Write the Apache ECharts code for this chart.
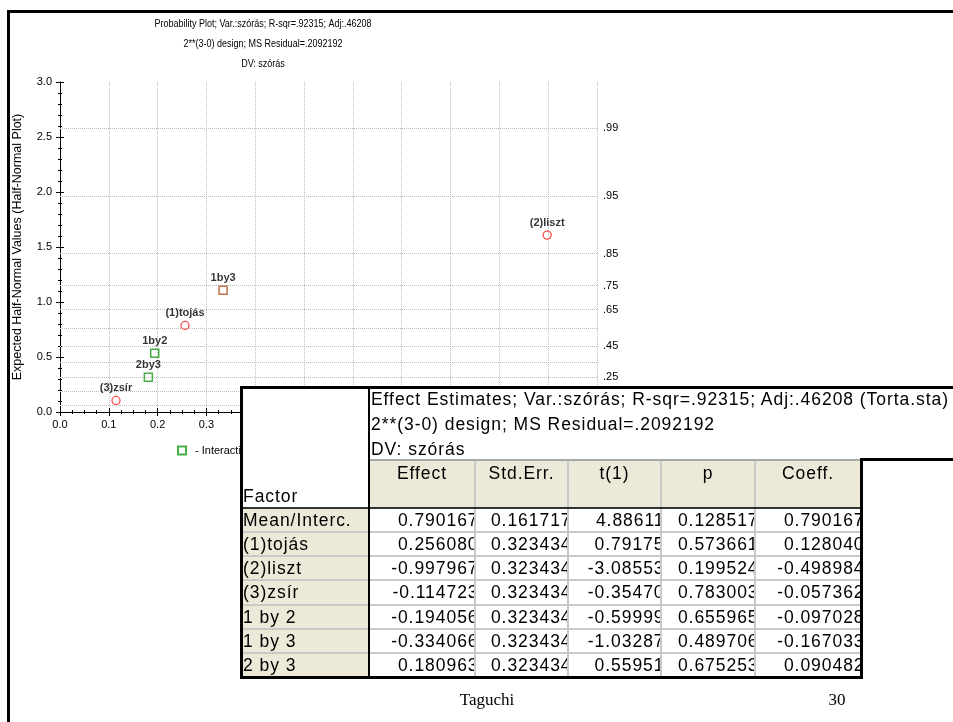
<!DOCTYPE html>
<html>
<head>
<meta charset="utf-8">
<script src="https://cdn.jsdelivr.net/npm/echarts@6/dist/echarts.min.js"></script>
<style>
  html, body { margin: 0; padding: 0; background: #fff; width: 953px; height: 722px; overflow: hidden;
               font-family: "Liberation Sans", Arial, sans-serif; }
  #frame { position: absolute; left: 7px; top: 10px; width: 1000px; height: 800px;
           border-left: 3px solid #000; border-top: 3px solid #000; box-sizing: border-box; }
  #chart { position: absolute; left: 0; top: 0; width: 953px; height: 722px; }
  #tbl { position: absolute; left: 0; top: 0; width: 953px; height: 722px; }
  .blk { position: absolute; }
  .cell { position: absolute; overflow: hidden; white-space: nowrap; font-size: 17.5px; color: #000;
          letter-spacing: 0.95px; }
  .num span { position: absolute; right: -4.5px; }
  .foot { position: absolute; font-family: "Liberation Serif", "Times New Roman", serif; font-size: 17px;
          color: #000; transform: translate(-50%, -50%); }
</style>
</head>
<body>
<div id="frame"></div>
<div id="chart"></div>
<div id="tbl"></div>
<div class="foot" style="left:487px; top:700px;">Taguchi</div>
<div class="foot" style="left:837px; top:700px;">30</div>
<script>
// ---- effect estimates table ----
const factors   = ['Mean/Interc.', '(1)tojás', '(2)liszt', '(3)zsír', '1 by 2', '1 by 3', '2 by 3'];
const effect    = [0.790167, 0.256080, -0.997967, -0.114723, -0.194056, -0.334066, 0.180963];
const stdErr    = [0.161717, 0.323434, 0.323434, 0.323434, 0.323434, 0.323434, 0.323434];
const tValue    = [4.88611, 0.79175, -3.08553, -0.35470, -0.59999, -1.03287, 0.55951];
const pValue    = [0.128517, 0.573661, 0.199524, 0.783003, 0.655965, 0.489706, 0.675253];
const coeff     = [0.790167, 0.128040, -0.498984, -0.057362, -0.097028, -0.167033, 0.090482];
const columnHeads = ['Effect', 'Std.Err.', 't(1)', 'p', 'Coeff.'];
const tableTitle = [
  'Effect Estimates; Var.:szórás; R-sqr=.92315; Adj:.46208 (Torta.sta)',
  '2**(3-0) design; MS Residual=.2092192',
  'DV: szórás'
];

// ---- half-normal probability plot ----
const pointLabels = ['(1)tojás', '(2)liszt', '(3)zsír', '1by2', '1by3', '2by3'];
const isInteraction = [false, false, false, true, true, true];
const expectedHalfNormal = [0.787, 1.608, 0.105, 0.533, 1.106, 0.315];
const plotTitle = [
  'Probability Plot; Var.:szórás; R-sqr=.92315; Adj:.46208',
  '2**(3-0) design; MS Residual=.2092192',
  'DV: szórás'
];
const xTicks = [0, 0.1, 0.2, 0.3, 0.4, 0.5, 0.6, 0.7, 0.8, 0.9, 1.0, 1.1];
const probGrid   = [0.05, 0.15, 0.25, 0.35, 0.45, 0.55, 0.65, 0.75, 0.85, 0.95, 0.99];
const probLabels = ['', '', '.25', '', '.45', '', '.65', '.75', '.85', '.95', '.99'];

// inverse standard normal CDF (Acklam's rational approximation)
function normInv(p) {
  const a = [-3.969683028665376e+01, 2.209460984245205e+02, -2.759285104469687e+02,
             1.383577518672690e+02, -3.066479806614716e+01, 2.506628277459239e+00];
  const b = [-5.447609879822406e+01, 1.615858368580409e+02, -1.556989798598866e+02,
             6.680131188771972e+01, -1.328068155833136e+01];
  const c = [-7.784894002430293e-03, -3.223964580411365e-01, -2.400758277161838e+00,
             -2.549732539343734e+00, 4.374664141464968e+00, 2.938163982698783e+00];
  const d = [7.784695709041462e-03, 3.224671290700398e-01, 2.445134137142996e+00,
             3.754408661907416e+00];
  const pl = 0.02425;
  let q, r;
  if (p < pl) {
    q = Math.sqrt(-2 * Math.log(p));
    return (((((c[0]*q+c[1])*q+c[2])*q+c[3])*q+c[4])*q+c[5]) / ((((d[0]*q+d[1])*q+d[2])*q+d[3])*q+1);
  } else if (p <= 1 - pl) {
    q = p - 0.5; r = q * q;
    return (((((a[0]*r+a[1])*r+a[2])*r+a[3])*r+a[4])*r+a[5])*q / (((((b[0]*r+b[1])*r+b[2])*r+b[3])*r+b[4])*r+1);
  } else {
    q = Math.sqrt(-2 * Math.log(1 - p));
    return -(((((c[0]*q+c[1])*q+c[2])*q+c[3])*q+c[4])*q+c[5]) / ((((d[0]*q+d[1])*q+d[2])*q+d[3])*q+1);
  }
}
// position of a probability on the half-normal scale
const halfNormal = p => normInv((1 + p) / 2);

const mainPts = [], interPts = [];
pointLabels.forEach((name, i) => {
  const item = { name: name, value: [Math.abs(effect[i + 1]), expectedHalfNormal[i]] };
  if (isInteraction[i]) {
    if (name === '1by3') item.itemStyle = { borderColor: '#b0501c' };
    interPts.push(item);
  } else {
    mainPts.push(item);
  }
});

const FONT = '"Liberation Sans", Arial, sans-serif';
const labelStyle = {
  show: true, formatter: '{b}', position: 'top', distance: 2,
  color: '#000', fontWeight: 'bold', fontSize: 11, fontFamily: FONT
};

const chart = echarts.init(document.getElementById('chart'), null, { renderer: 'canvas' });
chart.setOption({
  animation: false,
  textStyle: { fontFamily: FONT },
  grid: { left: 60, top: 82, width: 537, height: 330, show: false, containLabel: false },
  graphic: plotTitle.map((t, i) => ({
    type: 'text', x: 263, y: 24 + i * 20, scaleX: 0.9,
    style: { text: t, fill: '#000', font: '10px ' + FONT, textAlign: 'center', textVerticalAlign: 'middle' }
  })),
  legend: {
    left: 172, top: 440, itemWidth: 8, itemHeight: 8, itemGap: 30,
    data: ['Interactions', 'Main effects'],
    formatter: n => '- ' + n,
    textStyle: { fontSize: 11, color: '#000', fontFamily: FONT, padding: [0, 0, 0, 4] }
  },
  xAxis: [{
    type: 'value', min: 0, max: 1.1, interval: 0.1, position: 'bottom',
    axisLine: { show: true, lineStyle: { color: '#000', width: 1 } },
    axisTick: { show: true, inside: true, length: 4, lineStyle: { color: '#000' } },
    minorTick: { show: true, splitNumber: 4, length: 2, lineStyle: { color: '#000' } },
    axisLabel: { color: '#000', fontSize: 11, margin: 7, formatter: v => v.toFixed(1),
                 customValues: xTicks },
    splitLine: { show: true, lineStyle: { type: 'dotted', color: '#bdbdbd', width: 1 } }
  }, {
    type: 'value', min: 0, max: 1.1, interval: 0.1, position: 'top',
    axisLine: { show: true, lineStyle: { color: '#000', width: 1 } },
    axisTick: { show: true, inside: true, length: 4, lineStyle: { color: '#000' } },
    minorTick: { show: true, splitNumber: 4, length: 2, lineStyle: { color: '#000' } },
    axisLabel: { show: false }, splitLine: { show: false }
  }],
  yAxis: [{
    type: 'value', min: 0, max: 3, interval: 0.5, position: 'left',
    name: 'Expected Half-Normal Values (Half-Normal Plot)',
    nameLocation: 'middle', nameGap: 36, nameRotate: 90,
    nameTextStyle: { fontSize: 12.5, color: '#000', fontFamily: FONT },
    axisLine: { show: true, lineStyle: { color: '#000', width: 1 } },
    axisTick: { show: true, inside: true, length: 4, lineStyle: { color: '#000' } },
    minorTick: { show: true, splitNumber: 5, length: 2, lineStyle: { color: '#000' } },
    axisLabel: { color: '#000', fontSize: 11, margin: 8, formatter: v => v.toFixed(1) },
    splitLine: { show: false }
  }, {
    type: 'value', min: 0, max: 3, interval: 0.5, position: 'right',
    axisLine: { show: true, lineStyle: { color: '#000', width: 1 } },
    axisTick: { show: true, inside: true, length: 4, lineStyle: { color: '#000' } },
    minorTick: { show: true, splitNumber: 5, length: 2, lineStyle: { color: '#000' } },
    axisLabel: { show: false }, splitLine: { show: false }
  }],
  series: [{
    type: 'line', data: [], xAxisIndex: 0, yAxisIndex: 0, silent: true,
    markLine: {
      silent: true, symbol: ['none', 'none'], animation: false,
      lineStyle: { type: 'dotted', color: '#bdbdbd', width: 1 },
      label: { show: true, position: 'end', distance: 6, color: '#000', fontSize: 11, fontFamily: FONT },
      emphasis: { disabled: true },
      data: probGrid.map((p, i) => ({
        yAxis: halfNormal(p),
        label: { show: probLabels[i] !== '', formatter: probLabels[i] }
      }))
    }
  }, {
    name: 'Interactions', type: 'scatter', symbol: 'rect', symbolSize: 8,
    itemStyle: { color: 'rgba(255,255,255,0)', borderColor: '#1a9a1a', borderWidth: 1.5 },
    label: labelStyle, data: interPts, z: 5
  }, {
    name: 'Main effects', type: 'scatter', symbol: 'circle', symbolSize: 8,
    itemStyle: { color: 'rgba(255,255,255,0)', borderColor: '#ff2020', borderWidth: 1.3 },
    label: labelStyle, data: mainPts, z: 5
  }]
});

// ---- table overlay ----
const tbl = document.getElementById('tbl');
function box(l, t, w, h, bg, cls) {
  const d = document.createElement('div');
  d.className = cls || 'blk';
  d.style.left = l + 'px'; d.style.top = t + 'px';
  d.style.width = w + 'px'; d.style.height = h + 'px';
  if (bg) d.style.background = bg;
  tbl.appendChild(d);
  return d;
}
const colX = [241, 369, 475, 568, 661, 755, 861];
const titleTop = 387, headTop = 460, dataTop = 508, rowH = 24.15, tableBottom = 677;
const BEIGE = '#ECE9D8', GRID = '#c9c9c9';

// white backing
box(241, titleTop, 953 - 241, headTop - titleTop, '#fff');
box(241, titleTop, colX[6] - 241, tableBottom - titleTop, '#fff');

// title lines
tableTitle.forEach((t, i) => {
  const c = box(colX[1] + 2, titleTop + i * 25, 953 - colX[1], 25, null, 'cell');
  c.style.lineHeight = '25px';
  c.textContent = t;
});

// header cells
columnHeads.forEach((h, j) => {
  const c = box(colX[j + 1], headTop, colX[j + 2] - colX[j + 1], dataTop - headTop, BEIGE, 'cell');
  c.style.textAlign = 'center';
  c.style.lineHeight = '26px';
  c.textContent = h;
});
const fc = box(243, dataTop - 24, colX[1] - 243, 24, null, 'cell');
fc.style.lineHeight = '24px';
fc.textContent = 'Factor';

// data rows
const cols = [
  effect.map(v => v.toFixed(6)), stdErr.map(v => v.toFixed(6)), tValue.map(v => v.toFixed(5)),
  pValue.map(v => v.toFixed(6)), coeff.map(v => v.toFixed(6))
];
factors.forEach((f, i) => {
  const top = dataTop + i * rowH;
  const lc = box(colX[0], top, colX[1] - colX[0], rowH, BEIGE, 'cell');
  lc.style.lineHeight = rowH + 'px';
  lc.style.paddingLeft = '2px';
  lc.style.boxSizing = 'border-box';
  lc.textContent = f;
  cols.forEach((col, j) => {
    const c = box(colX[j + 1], top, colX[j + 2] - colX[j + 1] - 1, rowH, '#fff', 'cell num');
    c.style.lineHeight = rowH + 'px';
    const s = document.createElement('span');
    s.textContent = col[i];
    c.appendChild(s);
  });
});

// grid lines
for (let i = 1; i < factors.length; i++) box(241, dataTop + i * rowH - 1, colX[6] - 241, 2, GRID);
for (let j = 2; j < 6; j++) box(colX[j] - 1, headTop, 2, tableBottom - headTop, GRID);
box(colX[1], headTop - 1, colX[6] - colX[1], 2, '#a8a8a8');
box(241, dataTop - 1, colX[6] - 241, 2, '#333');
box(colX[1] - 1, titleTop, 2, tableBottom - titleTop, '#000');
// thick outline
box(240, titleTop - 1, 953 - 240, 3, '#000');
box(240, titleTop - 1, 3, tableBottom - titleTop + 2, '#000');
box(240, tableBottom - 1, colX[6] - 240 + 2, 3, '#000');
box(colX[6] - 1, headTop - 2, 3, tableBottom - headTop + 3, '#000');
box(colX[6] - 1, headTop - 2, 953 - colX[6] + 1, 3, '#000');
</script>
</body>
</html>
